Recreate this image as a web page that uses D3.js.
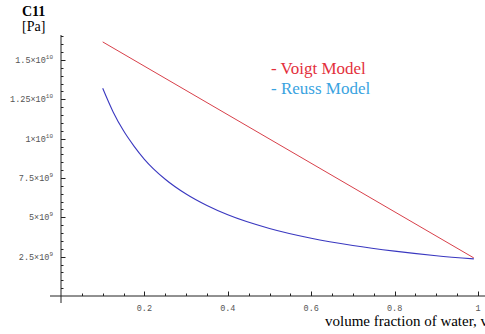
<!DOCTYPE html>
<html>
<head>
<meta charset="utf-8">
<script src="https://cdn.jsdelivr.net/npm/d3@7"></script>
<style>
  html, body { margin: 0; padding: 0; background: #fff; }
  svg { display: block; }
</style>
</head>
<body>
<div id="chart"></div>
<script>
// values
var voigtX = [0.1, 0.99];
var voigtY = [16.15e9, 2.42e9];

var reussX = [0.1, 0.125, 0.15, 0.175, 0.2, 0.25, 0.3, 0.35, 0.4, 0.5, 0.6, 0.7, 0.8, 0.9, 0.99];
var reussY = [13.2e9, 11.7e9, 10.5e9, 9.53e9, 8.69e9, 7.42e9, 6.48e9, 5.75e9, 5.16e9, 4.29e9, 3.67e9, 3.21e9, 2.85e9, 2.56e9, 2.36e9];

var xTicks = [0.2, 0.4, 0.6, 0.8, 1];
var xTickLabels = ["0.2", "0.4", "0.6", "0.8", "1"];
var yTicks = [2.5e9, 5e9, 7.5e9, 1e10, 1.25e10, 1.5e10];
var yMantissa = ["2.5", "5", "7.5", "1", "1.25", "1.5"];
var yExponent = ["9", "9", "9", "10", "10", "10"];
var legendNames = ["- Voigt Model", "- Reuss Model"];

(function () {
    var W = 485, H = 334;
    var svg = d3.select("#chart").append("svg")
        .attr("width", W)
        .attr("height", H);

    var x = d3.scaleLinear().domain([0, 1]).range([61, 478]);
    var y = d3.scaleLinear().domain([0, 1.5e10]).range([296, 60]);

    var axisCol = "#222";
    var labCol = "#555";
    var mono = "'Liberation Mono','DejaVu Sans Mono',monospace";
    var serif = "'Liberation Serif','DejaVu Serif',serif";

    // axis lines
    svg.append("line")
        .attr("x1", 50).attr("x2", W)
        .attr("y1", y(0)).attr("y2", y(0))
        .attr("stroke", axisCol).attr("stroke-width", 1);
    svg.append("line")
        .attr("x1", x(0)).attr("x2", x(0))
        .attr("y1", 35).attr("y2", 303)
        .attr("stroke", axisCol).attr("stroke-width", 1);

    // x ticks, every 0.05, majors at 0.2
    var xMinor = d3.range(1, 21).map(function (i) { return i * 0.05; });
    svg.selectAll("line.xt")
        .data(xMinor)
        .enter().append("line")
        .attr("class", "xt")
        .attr("x1", function (d) { return Math.round(x(d)) + 0.5; })
        .attr("x2", function (d) { return Math.round(x(d)) + 0.5; })
        .attr("y1", y(0))
        .attr("y2", function (d, i) { return (i + 1) % 4 == 0 ? y(0) - 4.5 : y(0) - 2.5; })
        .attr("stroke", axisCol);

    svg.selectAll("text.xl")
        .data(xTicks)
        .enter().append("text")
        .attr("class", "xl")
        .attr("x", function (d) { return x(d); })
        .attr("y", 311)
        .attr("text-anchor", "middle")
        .style("font-family", mono)
        .style("font-size", "8.5px")
        .style("fill", labCol)
        .text(function (d, i) { return xTickLabels[i]; });

    // y ticks, every 0.5e9, majors at 2.5e9
    var yMinor = d3.range(1, 34).map(function (i) { return i * 0.5e9; });
    svg.selectAll("line.yt")
        .data(yMinor)
        .enter().append("line")
        .attr("class", "yt")
        .attr("x1", x(0))
        .attr("x2", function (d, i) { return (i + 1) % 5 == 0 ? x(0) + 4.5 : x(0) + 2.5; })
        .attr("y1", function (d) { return Math.round(y(d)) + 0.5; })
        .attr("y2", function (d) { return Math.round(y(d)) + 0.5; })
        .attr("stroke", axisCol);

    var yl = svg.selectAll("text.yl")
        .data(yTicks)
        .enter().append("text")
        .attr("class", "yl")
        .attr("x", 53)
        .attr("y", function (d) { return y(d) + 3; })
        .attr("text-anchor", "end")
        .style("font-family", mono)
        .style("font-size", "8.5px")
        .style("fill", labCol);
    yl.append("tspan")
        .text(function (d, i) { return yMantissa[i] + "\u00d710"; });
    yl.append("tspan")
        .attr("dy", -4)
        .style("font-size", "6px")
        .text(function (d, i) { return yExponent[i]; });

    // curves
    var line = d3.line()
        .x(function (d) { return x(d[0]); })
        .y(function (d) { return y(d[1]); })
        .curve(d3.curveMonotoneX);

    svg.append("path")
        .datum(d3.zip(voigtX, voigtY))
        .attr("d", line)
        .attr("fill", "none")
        .attr("stroke", "#d8404a")
        .attr("stroke-width", 1);

    svg.append("path")
        .datum(d3.zip(reussX, reussY))
        .attr("d", line)
        .attr("fill", "none")
        .attr("stroke", "#3a38c0")
        .attr("stroke-width", 1.1);

    // legend
    var legCols = ["#e3303c", "#3aa3df"];
    svg.selectAll("text.leg")
        .data(legendNames)
        .enter().append("text")
        .attr("class", "leg")
        .attr("x", 271)
        .attr("y", function (d, i) { return 74 + i * 20; })
        .style("font-family", serif)
        .style("font-size", "17px")
        .style("fill", function (d, i) { return legCols[i]; })
        .text(function (d) { return d; });

    // titles
    svg.append("text")
        .attr("x", 22).attr("y", 16)
        .style("font-family", serif)
        .style("font-weight", "bold")
        .style("font-size", "14px")
        .text("C11");
    svg.append("text")
        .attr("x", 22).attr("y", 31)
        .style("font-family", serif)
        .style("font-size", "14px")
        .text("[Pa]");
    svg.append("text")
        .attr("x", 325).attr("y", 326)
        .style("font-family", serif)
        .style("font-size", "15px")
        .text("volume fraction of water, v");
})();
</script>
</body>
</html>
